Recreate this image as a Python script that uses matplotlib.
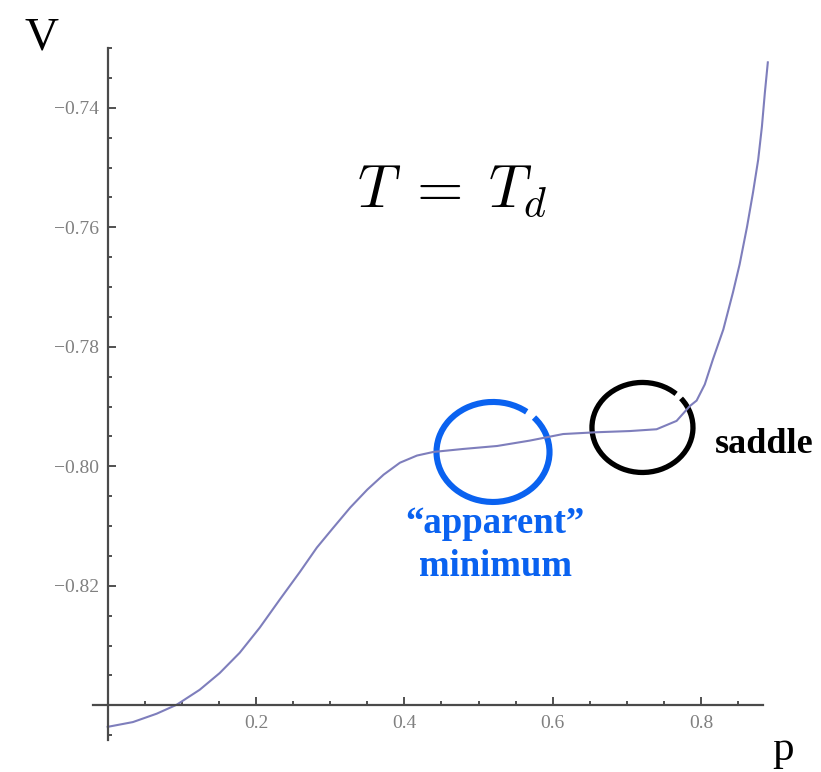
import numpy as np
import matplotlib
matplotlib.use("Agg")
import matplotlib.pyplot as plt
from matplotlib.patches import Arc
from matplotlib.ticker import MultipleLocator, FixedLocator, FixedFormatter

# potential V(p) at T = T_d
p_vals = [0.000, 0.034, 0.066, 0.093, 0.124, 0.151, 0.178, 0.205, 0.232, 0.259,
          0.282, 0.304, 0.327, 0.350, 0.372, 0.394, 0.417, 0.439, 0.479, 0.525,
          0.569, 0.614, 0.659, 0.704, 0.740, 0.767, 0.785, 0.794, 0.805, 0.816,
          0.830, 0.843, 0.852, 0.862, 0.870, 0.877, 0.882, 0.886, 0.890]
V_vals = [-0.8436, -0.8428, -0.8414, -0.8399, -0.8374, -0.8346, -0.8312, -0.8270,
          -0.8223, -0.8177, -0.8136, -0.8103, -0.8069, -0.8039, -0.8014, -0.7994,
          -0.7982, -0.7976, -0.7971, -0.7966, -0.7957, -0.7946, -0.7943, -0.7941,
          -0.7938, -0.7924, -0.7899, -0.7890, -0.7863, -0.7821, -0.7771, -0.7709,
          -0.7662, -0.7599, -0.7542, -0.7487, -0.7432, -0.7375, -0.7324]

x_ticks = [0.2, 0.4, 0.6, 0.8]
x_labels = ["0.2", "0.4", "0.6", "0.8"]
y_ticks = [-0.82, -0.80, -0.78, -0.76, -0.74]
y_labels = ["\u22120.82", "\u22120.80", "\u22120.78", "\u22120.76", "\u22120.74"]

W, H = 821, 772
fig = plt.figure(figsize=(W / 100, H / 100), dpi=100)


def fx(px):
    return px / W


def fy(py):
    return 1 - py / H


x0, x1 = -0.0198, 0.8835
y0, y1 = -0.8458, -0.7300
left, right, top, bottom = 93, 763, 48, 740
ax = fig.add_axes([fx(left), fy(bottom), (right - left) / W, (bottom - top) / H])
ax.set_xlim(x0, x1)
ax.set_ylim(y0, y1)

# Mathematica-style crossing axes
for side in ["top", "right"]:
    ax.spines[side].set_visible(False)
ax.spines["left"].set_position(("data", 0))
ax.spines["bottom"].set_position(("data", -0.84))
for side in ["left", "bottom"]:
    ax.spines[side].set_color("#4a4a4a")
    ax.spines[side].set_linewidth(1.6)

ax.xaxis.set_major_locator(FixedLocator(x_ticks))
ax.xaxis.set_major_formatter(FixedFormatter(x_labels))
ax.xaxis.set_minor_locator(MultipleLocator(0.05))
ax.yaxis.set_major_locator(FixedLocator(y_ticks))
ax.yaxis.set_major_formatter(FixedFormatter(y_labels))
ax.yaxis.set_minor_locator(MultipleLocator(0.005))

ax.tick_params(which="both", direction="in", color="#333333", width=1.2,
               labelcolor="#808080", labelsize=14)
ax.tick_params(which="major", length=6)
ax.tick_params(which="minor", length=3)
ax.tick_params(axis="x", pad=7)
ax.tick_params(axis="y", pad=6.5)
for lab in ax.get_xticklabels() + ax.get_yticklabels():
    lab.set_family("Liberation Serif")

ax.plot(p_vals, V_vals, color="#7e7ebc", lw=1.5, clip_on=False,
        solid_joinstyle="round")

# pixels per data unit, so the ring gaps sit at the right screen angle
sx = (right - left) / (x1 - x0)
sy = (bottom - top) / (y1 - y0)


def ring_angle(deg):
    a = np.deg2rad(deg)
    return np.rad2deg(np.arctan2(np.sin(a) / sy, np.cos(a) / sx))


# hand-drawn style rings around the flat regions
ax.add_patch(Arc((0.5195, -0.7976), 113 / sx, 100 / sy,
                 theta1=ring_angle(50), theta2=ring_angle(40) + 360,
                 color="#0a62f0", lw=4.4, clip_on=False))
ax.add_patch(Arc((0.721, -0.7935), 101 / sx, 90 / sy,
                 theta1=ring_angle(45), theta2=ring_angle(37) + 360,
                 color="black", lw=3.8, clip_on=False))

plt.rcParams["mathtext.fontset"] = "cm"
fig.text(fx(452), fy(207), r"$T\;=\;T_d$", fontsize=43, ha="center", va="baseline")

fig.text(fx(24), fy(50), "V", family="Liberation Serif", fontsize=34, va="baseline")
fig.text(fx(772), fy(760), "p", family="Liberation Serif", fontsize=31, va="baseline")

fig.text(fx(495), fy(533), "\u201capparent\u201d", family="Liberation Serif",
         weight="bold", fontsize=26.5, color="#0a62f0", ha="center", va="baseline")
fig.text(fx(495), fy(576), "minimum", family="Liberation Serif",
         weight="bold", fontsize=26.5, color="#0a62f0", ha="center", va="baseline")
fig.text(fx(715), fy(453), "saddle", family="Liberation Serif",
         weight="bold", fontsize=26, color="black", va="baseline")

fig.savefig("out.png", dpi=100)
